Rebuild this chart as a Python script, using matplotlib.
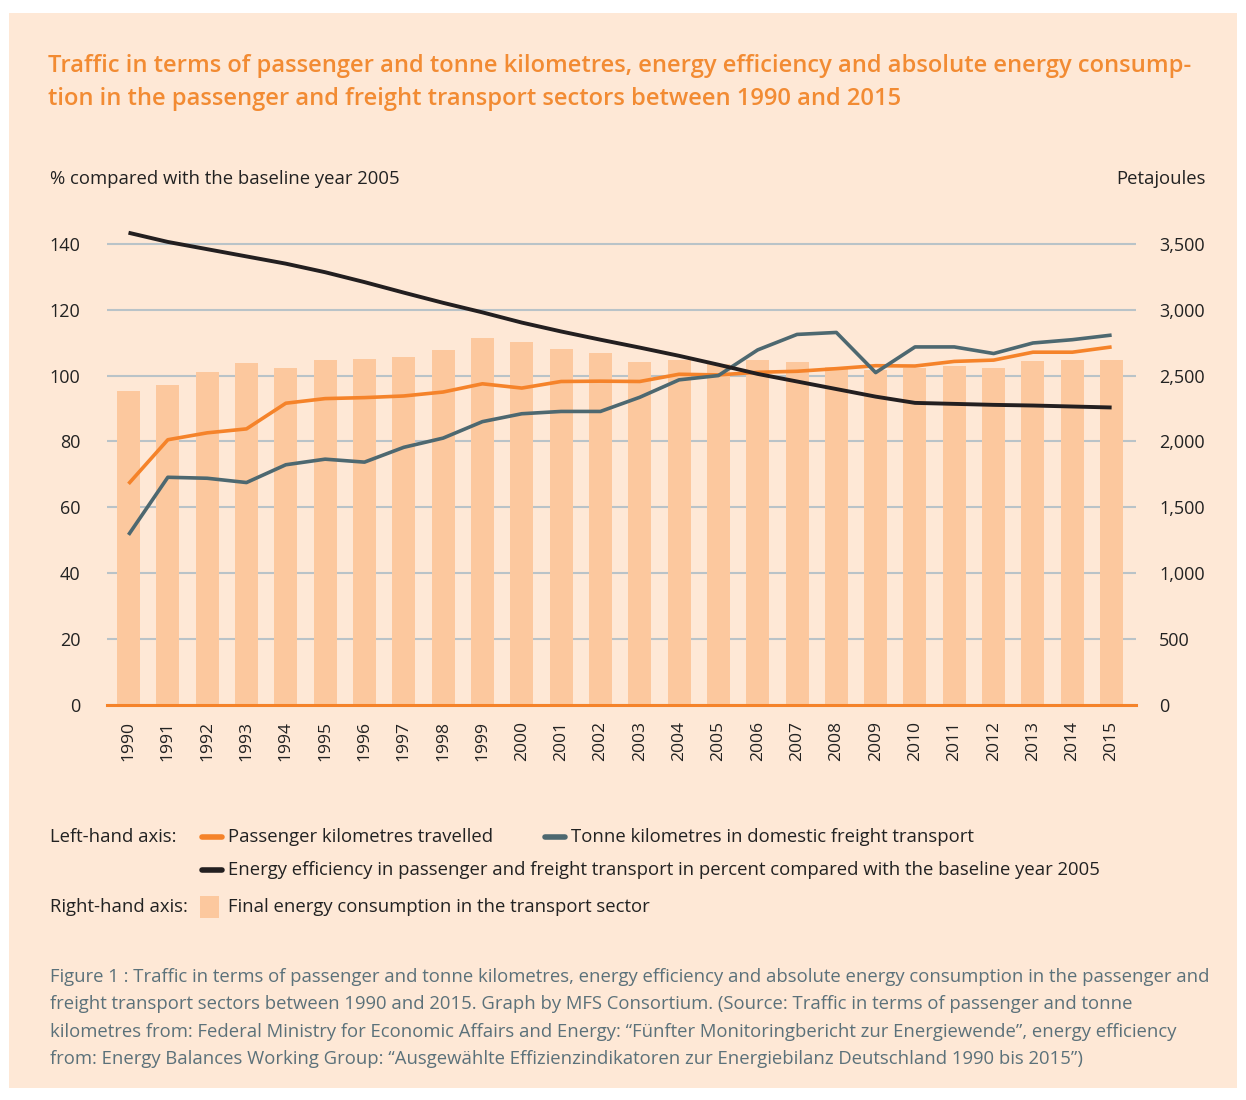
import matplotlib
matplotlib.use("Agg")
import matplotlib.pyplot as plt
import numpy as np
from matplotlib.patches import Rectangle
from matplotlib.lines import Line2D

years = list(range(1990, 2016))
passenger_km = [67.1, 80.5, 82.6, 83.8, 91.6, 93.0, 93.3, 93.8, 95.0, 97.5,
                96.2, 98.2, 98.3, 98.2, 100.4, 100.2, 101.0, 101.3, 102.1, 103.0,
                102.9, 104.3, 104.7, 107.1, 107.1, 108.7]
tonne_km = [51.6, 69.1, 68.8, 67.5, 72.9, 74.6, 73.7, 78.2, 81.0, 86.0,
            88.4, 89.1, 89.1, 93.4, 98.7, 100.0, 107.8, 112.5, 113.1, 100.9,
            108.7, 108.7, 106.7, 109.9, 110.9, 112.3]
efficiency = [143.4, 140.6, 138.4, 136.2, 134.0, 131.4, 128.4, 125.2, 122.1, 119.2,
              116.1, 113.4, 110.9, 108.5, 106.0, 103.3, 100.5, 98.2, 95.9, 93.6,
              91.7, 91.4, 91.1, 90.9, 90.6, 90.3]
energy_pj = [2383, 2429, 2527, 2596, 2558, 2619, 2627, 2642, 2695, 2786,
             2755, 2703, 2672, 2604, 2619, 2586, 2619, 2604, 2568, 2543,
             2561, 2573, 2558, 2611, 2619, 2619]
left_ticks = [0, 20, 40, 60, 80, 100, 120, 140]
right_ticks = [0, 500, 1000, 1500, 2000, 2500, 3000, 3500]

W, H = 1246, 1100
BG = "#fee8d6"
BAR = "#fcc89e"
ORANGE = "#f5832a"
TEAL = "#4d6870"
BLACK = "#231f20"
GRID = "#b9c3c8"
TXT = "#222222"
CAP = "#5b717a"

plt.rcParams['font.family'] = ['Open Sans', 'DejaVu Sans']

fig = plt.figure(figsize=(W / 100, H / 100), dpi=100, facecolor="white")


def fx(x):
    return x / W


def fy(y):
    return 1 - y / H


fig.patches.append(Rectangle((fx(9), fy(1088)), fx(1228), 1075 / H,
                             transform=fig.transFigure, facecolor=BG,
                             edgecolor="none", zorder=-10))

ax2 = fig.add_axes([fx(107), fy(704.7), fx(1136 - 107), (704.7 - 211) / H])
ax1 = ax2.twinx()
# lines + left scale on ax1, bars + right scale on ax2
ax1.yaxis.tick_left()
ax2.yaxis.tick_right()
ax1.set_zorder(ax2.get_zorder() + 1)
ax1.patch.set_visible(False)
ax2.patch.set_visible(False)

x = np.arange(len(years))
ax2.bar(x, energy_pj, width=0.585, color=BAR, zorder=2)
ax2.set_ylim(0, 3750)
ax2.set_yticks(right_ticks)
ax2.set_yticklabels([f"{v:,}" for v in right_ticks])
ax2.grid(axis="y", color=GRID, linewidth=1.5, zorder=0)
ax2.set_axisbelow(True)

ax1.plot(x, passenger_km, color=ORANGE, lw=2.6, solid_capstyle="butt")
ax1.plot(x, tonne_km, color=TEAL, lw=2.6, solid_capstyle="butt")
ax1.plot(x, efficiency, color=BLACK, lw=2.8, solid_capstyle="butt")
ax1.set_ylim(0, 150)
ax1.set_yticks(left_ticks)
ax2.set_xlim(-0.547, 25.62)
ax2.set_xticks(x)
ax2.set_xticklabels([str(y) for y in years], rotation=90)

for a in (ax1, ax2):
    for s in a.spines.values():
        s.set_visible(False)
ax1.spines["bottom"].set_visible(True)
ax1.spines["bottom"].set_color(ORANGE)
ax1.spines["bottom"].set_linewidth(2.2)

ax1.tick_params(axis="y", length=0, pad=19, labelsize=13, labelcolor=TXT)
ax2.tick_params(axis="y", length=0, pad=16.5, labelsize=13, labelcolor=TXT)
ax2.tick_params(axis="x", length=0, pad=11.5, labelsize=12.6, labelcolor=TXT)

# title
title_col = "#f28b33"
fig.text(fx(48), fy(66), "Traffic in terms of passenger and tonne kilometres, energy efficiency and absolute energy consump-",
         color=title_col, fontsize=17.15, fontweight="semibold", va="center")
fig.text(fx(48), fy(99), "tion in the passenger and freight transport sectors between 1990 and 2015",
         color=title_col, fontsize=17.15, fontweight="semibold", va="center")

fig.text(fx(50), fy(179), "% compared with the baseline year 2005", color=TXT, fontsize=13.3, va="center")
fig.text(fx(1206), fy(179), "Petajoules", color=TXT, fontsize=13.3, va="center", ha="right")

# legend
leg_fs = 13.3
fig.text(fx(50), fy(837), "Left-hand axis:", color=TXT, fontsize=leg_fs, va="center")
fig.text(fx(50), fy(907), "Right-hand axis:", color=TXT, fontsize=leg_fs, va="center")
legend_items = [
    (200, 837, ORANGE, "Passenger kilometres travelled"),
    (543, 837, TEAL, "Tonne kilometres in domestic freight transport"),
    (200, 870, BLACK, "Energy efficiency in passenger and freight transport in percent compared with the baseline year 2005"),
]
for lx, ly, col, lab in legend_items:
    fig.add_artist(Line2D([fx(lx + 2), fx(lx + 22)], [fy(ly), fy(ly)], transform=fig.transFigure,
                          color=col, lw=4, solid_capstyle="round"))
    fig.text(fx(lx + 28), fy(ly), lab, color=TXT, fontsize=leg_fs, va="center")
fig.patches.append(Rectangle((fx(200), fy(918)), fx(19), 22 / H, transform=fig.transFigure,
                             facecolor=BAR, edgecolor="none"))
fig.text(fx(228), fy(907), "Final energy consumption in the transport sector", color=TXT, fontsize=leg_fs, va="center")

caption = [
    "Figure 1 : Traffic in terms of passenger and tonne kilometres, energy efficiency and absolute energy consumption in the passenger and",
    "freight transport sectors between 1990 and 2015. Graph by MFS Consortium. (Source: Traffic in terms of passenger and tonne",
    "kilometres from: Federal Ministry for Economic Affairs and Energy: \u201cF\u00fcnfter Monitoringbericht zur Energiewende\u201d, energy efficiency",
    "from: Energy Balances Working Group: \u201cAusgew\u00e4hlte Effizienzindikatoren zur Energiebilanz Deutschland 1990 bis 2015\u201d)",
]
for i, line in enumerate(caption):
    fig.text(fx(50), fy(977 + i * 27.3), line, color=CAP, fontsize=13.3, va="center")

fig.savefig("out.png", dpi=100, facecolor="white")
